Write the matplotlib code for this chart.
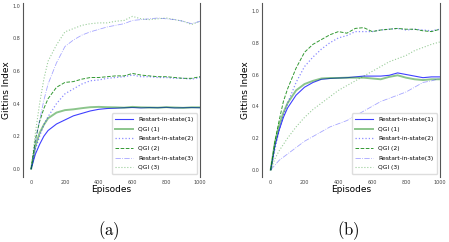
import matplotlib.pyplot as plt

plt.rcParams['mathtext.fontset'] = 'cm'

episodes = [0, 25, 50, 75, 100, 150, 200, 250, 300, 350, 400, 450, 500,
            550, 600, 650, 700, 750, 800, 850, 900, 950, 1000]
labels = ['Restart-in-state(1)', 'QGI (1)', 'Restart-in-state(2)',
          'QGI (2)', 'Restart-in-state(3)', 'QGI (3)']

# panel (a)
a_restart1 = [0, 0.09, 0.15, 0.20, 0.235, 0.275, 0.30, 0.325, 0.34, 0.355, 0.365, 0.37,
              0.372, 0.375, 0.376, 0.374, 0.376, 0.375, 0.377, 0.374, 0.375, 0.376, 0.375]
a_qgi1 = [0, 0.14, 0.22, 0.27, 0.31, 0.345, 0.36, 0.365, 0.372, 0.378, 0.38, 0.378,
          0.377, 0.375, 0.38, 0.377, 0.376, 0.375, 0.378, 0.376, 0.374, 0.377, 0.377]
a_restart2 = [0, 0.12, 0.20, 0.27, 0.32, 0.40, 0.46, 0.49, 0.52, 0.54, 0.545, 0.555,
              0.56, 0.565, 0.575, 0.565, 0.565, 0.56, 0.56, 0.555, 0.555, 0.55, 0.56]
a_qgi2 = [0, 0.18, 0.29, 0.37, 0.43, 0.50, 0.53, 0.535, 0.55, 0.56, 0.56, 0.565,
          0.57, 0.57, 0.585, 0.575, 0.57, 0.565, 0.565, 0.56, 0.555, 0.555, 0.565]
a_restart3 = [0, 0.16, 0.30, 0.42, 0.52, 0.65, 0.75, 0.79, 0.82, 0.84, 0.855, 0.87,
              0.88, 0.89, 0.91, 0.915, 0.92, 0.925, 0.92, 0.915, 0.905, 0.89, 0.905]
a_qgi3 = [0, 0.22, 0.40, 0.55, 0.66, 0.76, 0.84, 0.86, 0.88, 0.89, 0.895, 0.895,
          0.905, 0.91, 0.935, 0.92, 0.915, 0.92, 0.925, 0.915, 0.905, 0.885, 0.905]

# panel (b)
b_restart1 = [0, 0.15, 0.25, 0.33, 0.39, 0.47, 0.52, 0.55, 0.57, 0.575, 0.578, 0.58,
              0.585, 0.59, 0.59, 0.59, 0.595, 0.61, 0.60, 0.59, 0.58, 0.585, 0.585]
b_qgi1 = [0, 0.17, 0.28, 0.36, 0.42, 0.50, 0.54, 0.56, 0.575, 0.578, 0.578, 0.58,
          0.58, 0.58, 0.575, 0.57, 0.585, 0.595, 0.58, 0.57, 0.565, 0.57, 0.57]
b_restart2 = [0, 0.13, 0.25, 0.34, 0.42, 0.55, 0.65, 0.71, 0.76, 0.80, 0.83, 0.845,
              0.87, 0.87, 0.87, 0.88, 0.885, 0.89, 0.88, 0.885, 0.88, 0.875, 0.885]
b_qgi2 = [0, 0.18, 0.31, 0.43, 0.51, 0.64, 0.74, 0.79, 0.82, 0.85, 0.87, 0.86,
          0.89, 0.895, 0.87, 0.88, 0.885, 0.89, 0.885, 0.885, 0.875, 0.87, 0.885]
b_restart3 = [0, 0.03, 0.06, 0.08, 0.10, 0.14, 0.18, 0.21, 0.24, 0.27, 0.29, 0.31,
              0.34, 0.37, 0.40, 0.43, 0.45, 0.47, 0.49, 0.52, 0.55, 0.56, 0.575]
b_qgi3 = [0, 0.07, 0.12, 0.16, 0.20, 0.27, 0.33, 0.38, 0.42, 0.46, 0.50, 0.53,
          0.56, 0.59, 0.62, 0.65, 0.68, 0.70, 0.72, 0.75, 0.77, 0.79, 0.805]

styles = [
    dict(color='blue', lw=0.8, ls='-', alpha=0.75),
    dict(color='green', lw=1.4, ls='-', alpha=0.45),
    dict(color='blue', lw=0.9, ls=':', alpha=0.45),
    dict(color='green', lw=0.7, ls='--', alpha=0.8),
    dict(color='blue', lw=0.6, ls='-.', alpha=0.35),
    dict(color='green', lw=0.8, ls=':', alpha=0.4),
]


def draw_panel(ax, series, ylim):
    for ys, lab, st in zip(series, labels, styles):
        ax.plot(episodes, ys, label=lab, **st)
    ax.set_xlim(-50, 1000)
    ax.set_ylim(*ylim)
    ax.set_xticks([0, 200, 400, 600, 800, 1000])
    ax.set_yticks([0.0, 0.2, 0.4, 0.6, 0.8, 1.0])
    ax.tick_params(length=0, labelsize=3.5, labelcolor='#444444', pad=2)
    for s in ['top', 'bottom']:
        ax.spines[s].set_visible(False)
    for s in ['left', 'right']:
        ax.spines[s].set_color('#555555')
        ax.spines[s].set_linewidth(0.8)
    ax.set_xlabel('Episodes', fontsize=6.5, labelpad=0)
    ax.set_ylabel('Gittins Index', fontsize=6.5, labelpad=1)
    ax.legend(loc='lower right', fontsize=4.3, handlelength=3.0,
              labelspacing=0.75, borderpad=0.6, framealpha=1,
              edgecolor='#dddddd', fancybox=True)


fig = plt.figure(figsize=(4.49, 2.42), dpi=100)
ax1 = fig.add_axes([0.0506, 0.2686, 0.395, 0.7177])
ax2 = fig.add_axes([0.584, 0.2686, 0.3958, 0.7177])

draw_panel(ax1, [a_restart1, a_qgi1, a_restart2, a_qgi2, a_restart3, a_qgi3], (-0.05, 1.015))
draw_panel(ax2, [b_restart1, b_qgi1, b_restart2, b_qgi2, b_restart3, b_qgi3], (-0.045, 1.048))

fig.text(0.242, 0.045, r'$\mathrm{(a)}$', ha='center', va='center', fontsize=12)
fig.text(0.775, 0.045, r'$\mathrm{(b)}$', ha='center', va='center', fontsize=12)

fig.savefig('out.png', dpi=100)
